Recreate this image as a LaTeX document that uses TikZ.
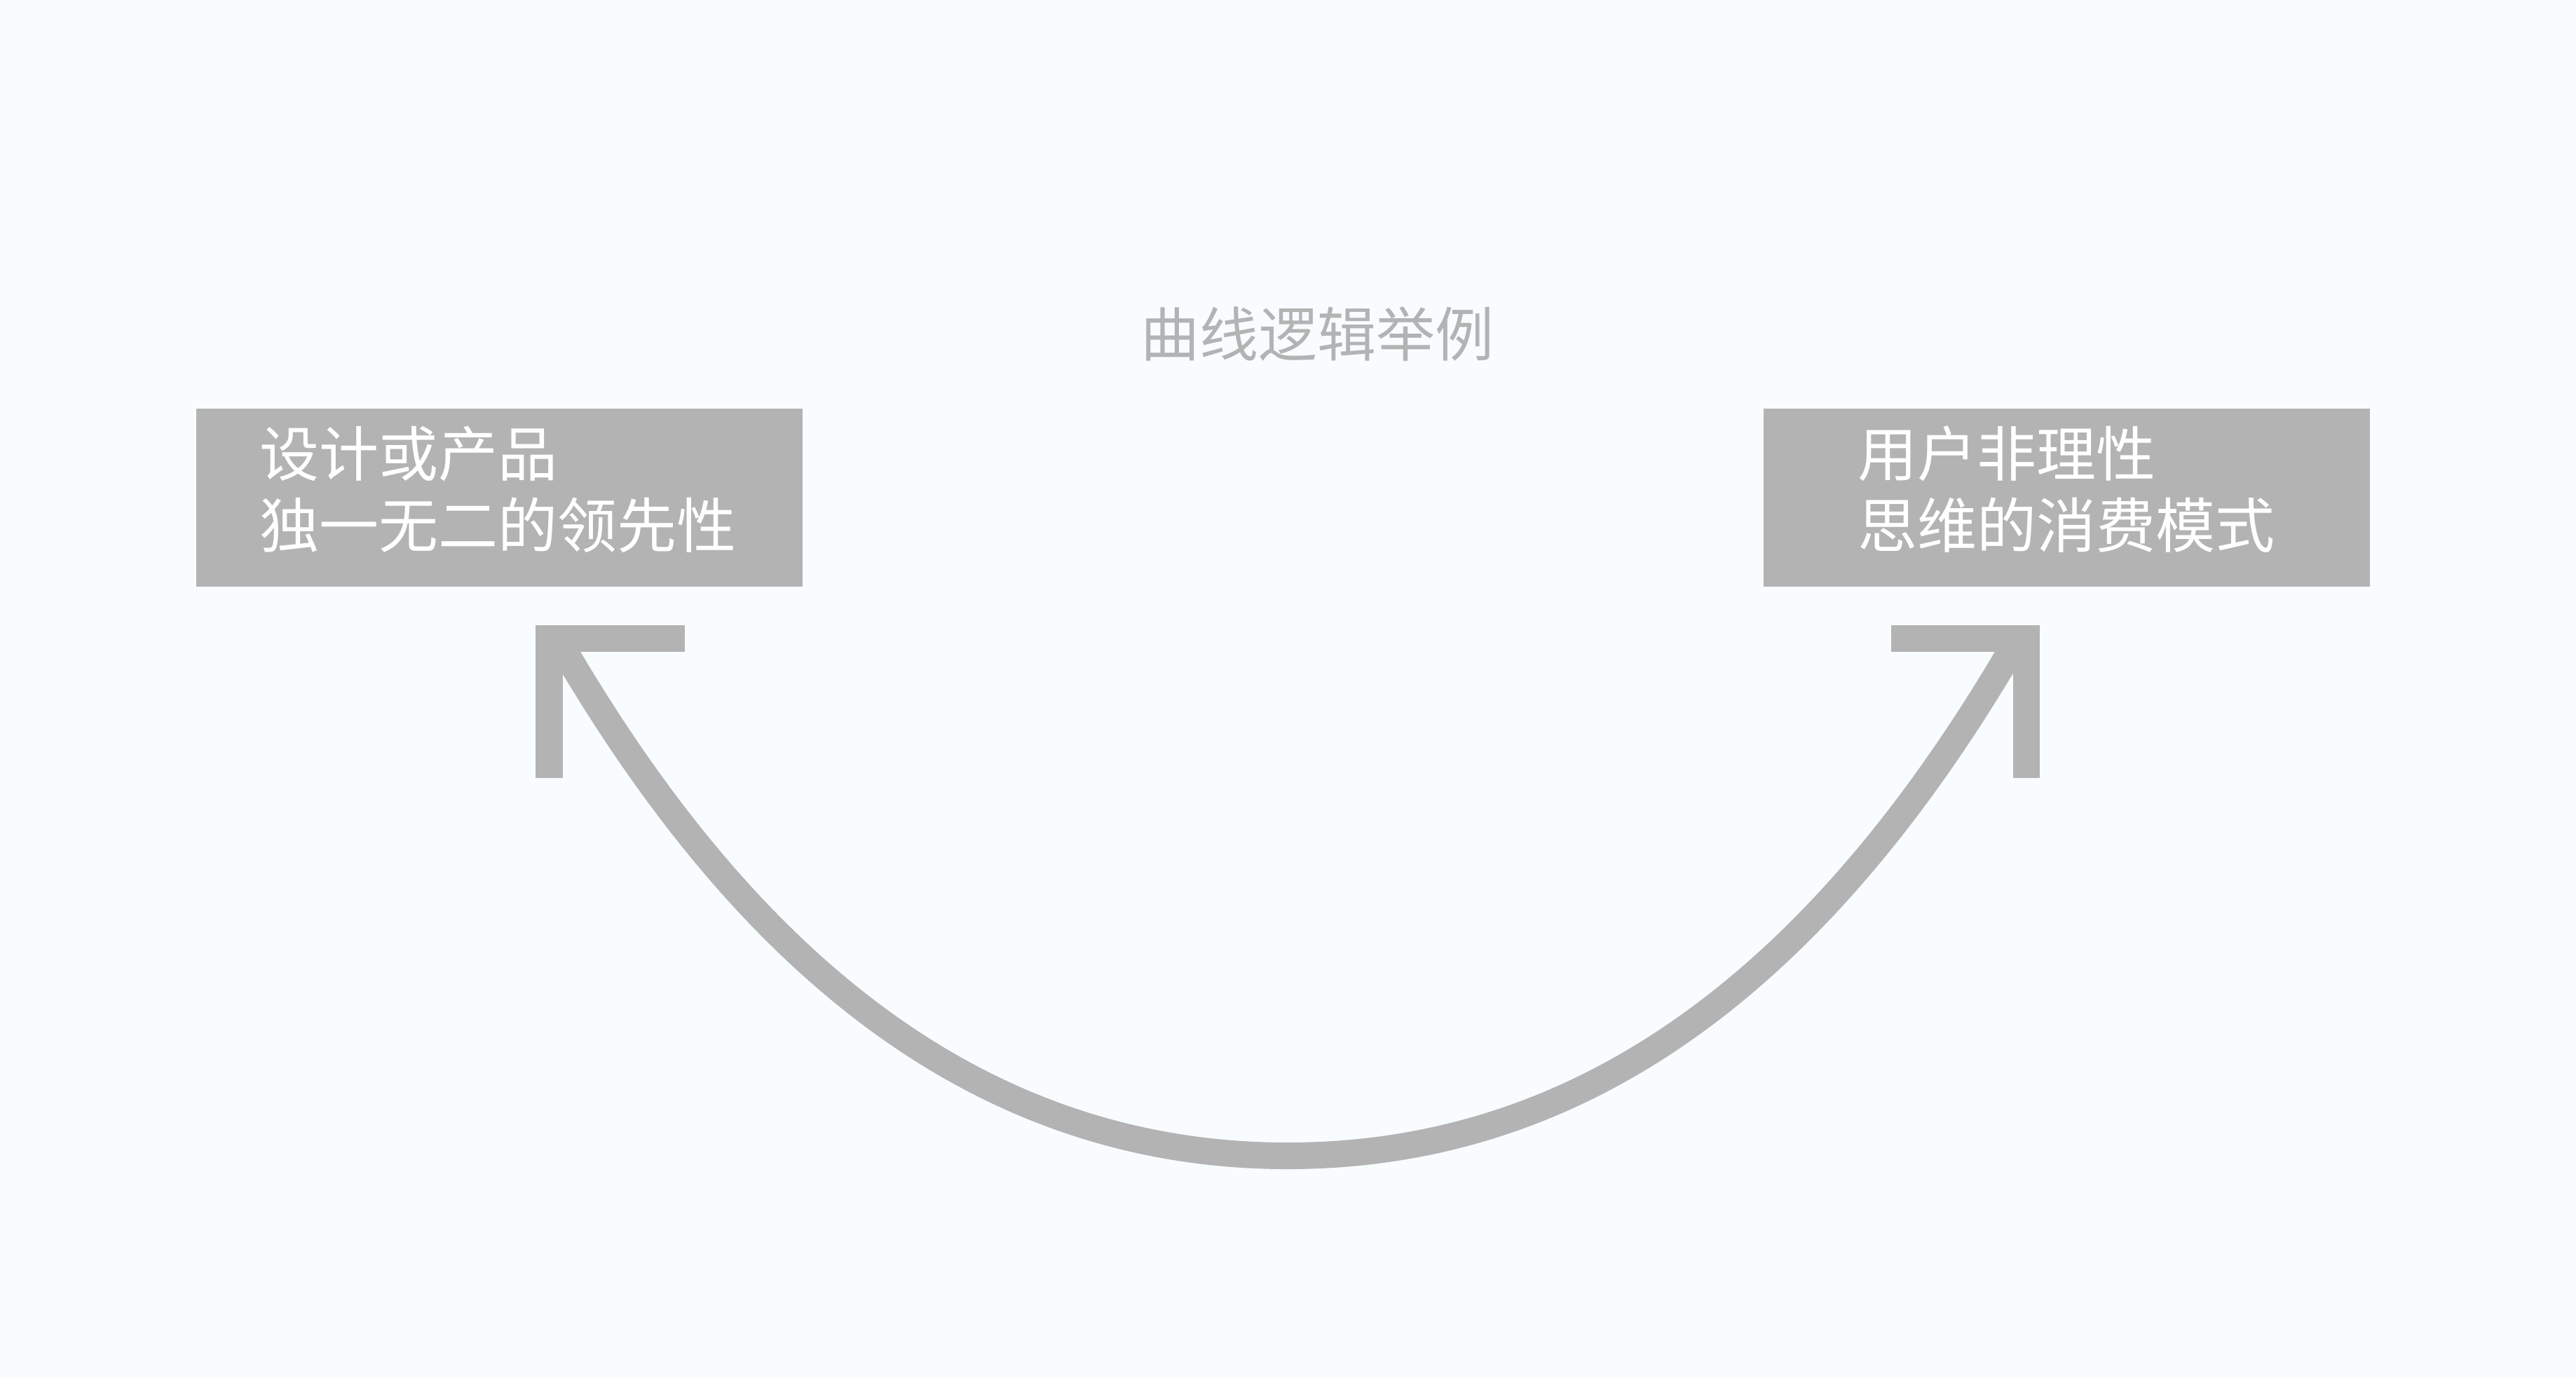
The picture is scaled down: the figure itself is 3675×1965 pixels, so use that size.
\documentclass[tikz,border=0pt]{standalone}
\usepackage{fontspec}
\newfontfamily\cjk{Noto Sans CJK SC}
\definecolor{boxgray}{HTML}{B3B3B3}
\definecolor{bgcol}{HTML}{F8FCFE}
\tikzset{
  box/.style={rectangle, fill=boxgray, draw=none, minimum width=173pt, minimum height=50.8pt, inner sep=0pt},
  boxtext/.style={anchor=base west, inner sep=0pt, text=white, font=\cjk\fontsize{17pt}{20pt}\selectfont},
  titletext/.style={anchor=base west, inner sep=0pt, text=boxgray, font=\cjk\fontsize{16.8pt}{20pt}\selectfont},
  arrowbar/.style={fill=boxgray},
  curvearrow/.style={draw=boxgray, line width=7.6pt, line cap=butt}
}
\begin{document}
\begin{tikzpicture}[x=0.2pt, y=-0.2pt]
\fill[bgcol] (0,0) rectangle (3675,1965);
\useasboundingbox (0,0) rectangle (3675,1965);
% title
\node[titletext] (title) at (1626,508) {曲线逻辑举例};
% boxes
\node[box] (lbox) at (712.5,710) {};
\node[box] (rbox) at (2948.5,710) {};
\node[boxtext] (l1) at (369,679) {设计或产品};
\node[boxtext] (l2) at (369,781) {独一无二的领先性};
\node[boxtext] (r1) at (2649,679) {用户非理性};
\node[boxtext] (r2) at (2649,781) {思维的消费模式};
% curve
\coordinate (ls) at (795,911);
\coordinate (bot) at (1837,1649);
\coordinate (rs) at (2879,911);
\draw[curvearrow] (ls) .. controls (1055,1361) and (1387,1649) .. (bot)
  .. controls (2287,1649) and (2619,1361) .. (rs);
% arrowheads
\fill[arrowbar] (764,892) rectangle (977,930);
\fill[arrowbar] (764,892) rectangle (803,1110);
\fill[arrowbar] (2698,892) rectangle (2910,930);
\fill[arrowbar] (2872,892) rectangle (2910,1110);
\end{tikzpicture}
\end{document}
